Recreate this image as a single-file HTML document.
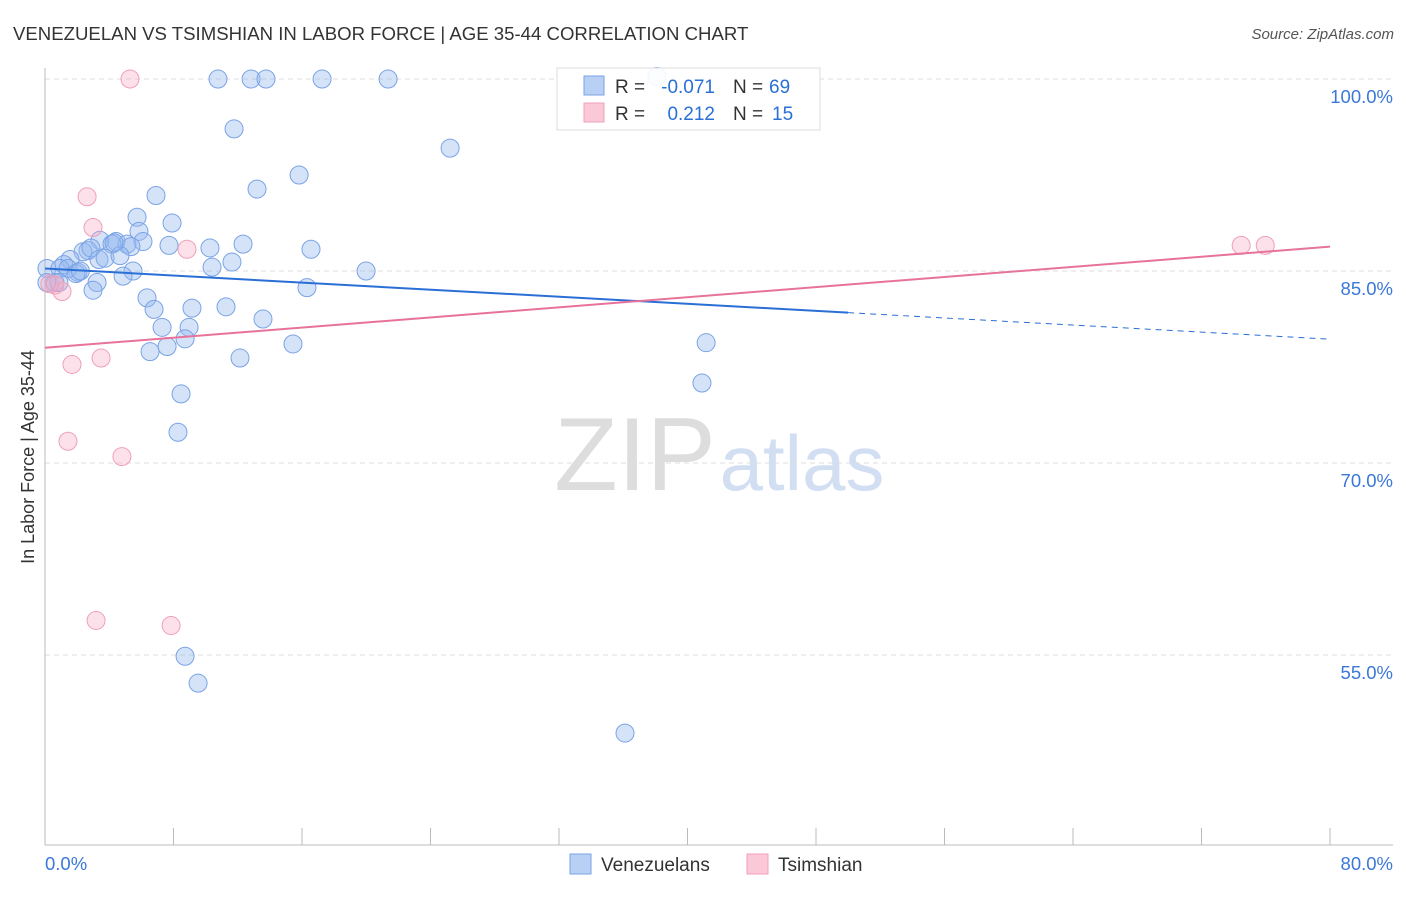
<!DOCTYPE html>
<html><head><meta charset="utf-8"><style>
body{margin:0;background:#fff;font-family:"Liberation Sans",sans-serif;}
svg text{font-family:"Liberation Sans",sans-serif;}
</style></head><body>
<svg id="chart" width="1406" height="892" xmlns="http://www.w3.org/2000/svg">
<text x="13" y="40" font-size="18.6" fill="#333">VENEZUELAN VS TSIMSHIAN IN LABOR FORCE | AGE 35-44 CORRELATION CHART</text>
<text x="1394" y="39" font-size="15" fill="#555" font-style="italic" text-anchor="end">Source: ZipAtlas.com</text>
<g>
<text x="635" y="490" font-size="104" fill="#ddd" font-family="Liberation Serif" text-anchor="middle">ZIP</text>
<text x="802" y="490" font-size="78" fill="#d2def2" text-anchor="middle">atlas</text>
</g>
<g id="grid"></g>
<g id="axes"></g>
<g id="marks"></g>
<text transform="translate(34,457) rotate(-90)" font-size="18" fill="#333" text-anchor="middle">In Labor Force | Age 35-44</text>
<g>
<rect x="557" y="68" width="263" height="62" fill="#fff" fill-opacity="0.9" stroke="#ddd"/>
<rect x="584" y="76" width="20" height="19" fill="#b9d0f5" stroke="#7aa3e5"/>
<rect x="584" y="103" width="20" height="19" fill="#fac8d7" stroke="#f0a0b8"/>
<text x="615" y="93" font-size="19" fill="#333">R = </text>
<text x="715" y="93" font-size="19" fill="#2a6fd6" text-anchor="end">-0.071</text>
<text x="733" y="93" font-size="19" fill="#333">N = </text>
<text x="769" y="93" font-size="19" fill="#2a6fd6">69</text>
<text x="615" y="120" font-size="19" fill="#333">R = </text>
<text x="715" y="120" font-size="19" fill="#2a6fd6" text-anchor="end">0.212</text>
<text x="733" y="120" font-size="19" fill="#333">N = </text>
<text x="772" y="120" font-size="19" fill="#2a6fd6">15</text>
</g>
<g>
<rect x="570" y="854" width="21" height="20" fill="#b9d0f5" stroke="#7aa3e5"/>
<text x="601" y="871" font-size="19" fill="#333">Venezuelans</text>
<rect x="747" y="854" width="21" height="20" fill="#fac8d7" stroke="#f0a0b8"/>
<text x="778" y="871" font-size="19" fill="#333">Tsimshian</text>
</g>
</svg>
<script>
const yTicks=[100,85,70,55];
const yTickLabels=["100.0%","85.0%","70.0%","55.0%"];
const xTickCount=10;
const xEndLabels=["0.0%","80.0%"];
const blueX=[10.77,12.83,13.76,17.25,21.36,38.1,11.77,25.22,13.2,15.82,6.91,5.73,7.91,5.85,3.42,4.42,5.1,6.1,4.17,2.68,2.37,2.86,5.35,7.72,10.27,12.33,16.56,3.36,1.56,3.74,4.67,1.18,0.12,0.93,2.05,1.43,1.93,5.48,4.86,10.4,11.64,19.99,0.62,0.87,3.24,2.99,16.31,6.35,6.79,9.15,11.27,13.57,7.29,8.97,8.72,7.6,6.54,15.44,12.14,41.16,40.9,8.47,8.28,8.72,9.53,36.11,0.12,2.2,4.3];
const blueY=[100,100,100,100,100,100.2,96.1,94.6,91.4,92.5,90.9,89.2,88.75,88.1,87.4,87.3,87.1,87.3,87.1,86.6,86.5,86.8,86.9,87.0,86.8,87.1,86.7,85.9,85.9,86.0,86.2,85.5,85.2,85.2,84.9,85.2,84.8,85.0,84.6,85.3,85.7,85.0,84.1,84.1,84.1,83.5,83.7,82.9,82.0,82.1,82.2,81.25,80.6,80.6,79.7,79.1,78.7,79.3,78.2,79.4,76.25,75.4,72.4,54.9,52.8,48.9,84.1,85.0,87.2];
const pinkX=[5.29,2.62,2.99,8.84,0.62,1.06,3.49,1.68,1.43,4.79,3.18,7.85,74.47,75.97,0.3];
const pinkY=[100,90.8,88.4,86.7,83.9,83.4,78.2,77.7,71.7,70.5,57.7,57.3,87.0,87.0,84.0];
const blueTrend=[85.2,-0.0691];   // intercept, slope
const pinkTrend=[79.0,0.0988];
const X0=45,X1=1330,Y100=79,PXPER=12.8;
const sx=v=>X0+v/80*(X1-X0);
const sy=v=>Y100+(100-v)*PXPER;
const NS="http://www.w3.org/2000/svg";
function mk(tag,attrs,parent){const e=document.createElementNS(NS,tag);for(const k in attrs)e.setAttribute(k,attrs[k]);document.getElementById(parent).appendChild(e);return e;}
yTicks.forEach((t,i)=>{
  const l=mk('line',{x1:X0,x2:1393,y1:sy(t),y2:sy(t),stroke:'#ddd','stroke-dasharray':'5,4'},'grid');
  
  
  const tx=mk('text',{x:1393,y:sy(t)+24,'font-size':18.5,fill:'#3b78d8','text-anchor':'end'},'grid');
  tx.textContent=yTickLabels[i];
  
  
});
const ya=mk('line',{x1:X0,x2:X0,y1:68,y2:845,stroke:'#bbb'},'axes');


const xa=mk('line',{x1:X0,x2:1393,y1:845,y2:845,stroke:'#bbb'},'axes');


for(let i=1;i<=xTickCount;i++){
  const v=80*i/xTickCount;
  const t=mk('line',{x1:sx(v),x2:sx(v),y1:828,y2:845,stroke:'#bbb'},'axes');
  
  
}
[[0,'start',45],[80,'end',1393]].forEach((d,i)=>{
  const t=mk('text',{x:d[2],y:870,'font-size':18.5,fill:'#3b78d8','text-anchor':d[1]},'axes');
  t.textContent=xEndLabels[i];
  
  
});
blueX.forEach((x,i)=>{
  const c=mk('circle',{cx:sx(x),cy:sy(blueY[i]),r:9,fill:'rgba(150,185,240,0.4)',stroke:'#7aa3e5','stroke-width':1},'marks');
  
  
});
pinkX.forEach((x,i)=>{
  const c=mk('circle',{cx:sx(x),cy:sy(pinkY[i]),r:9,fill:'rgba(245,170,195,0.35)',stroke:'#f0a0b8','stroke-width':1},'marks');
  
  
});
const bt=x=>blueTrend[0]+blueTrend[1]*x, pt=x=>pinkTrend[0]+pinkTrend[1]*x;
const b1=mk('line',{x1:sx(0),y1:sy(bt(0)),x2:sx(50),y2:sy(bt(50)),stroke:'#2a6fd6','stroke-width':2},'marks');


const b2=mk('line',{x1:sx(50),y1:sy(bt(50)),x2:sx(80),y2:sy(bt(80)),stroke:'#2a6fd6','stroke-width':1,'stroke-dasharray':'6,5'},'marks');


const p1=mk('line',{x1:sx(0),y1:sy(pt(0)),x2:sx(80),y2:sy(pt(80)),stroke:'#e8739a','stroke-width':2},'marks');


</script>
</body></html>
